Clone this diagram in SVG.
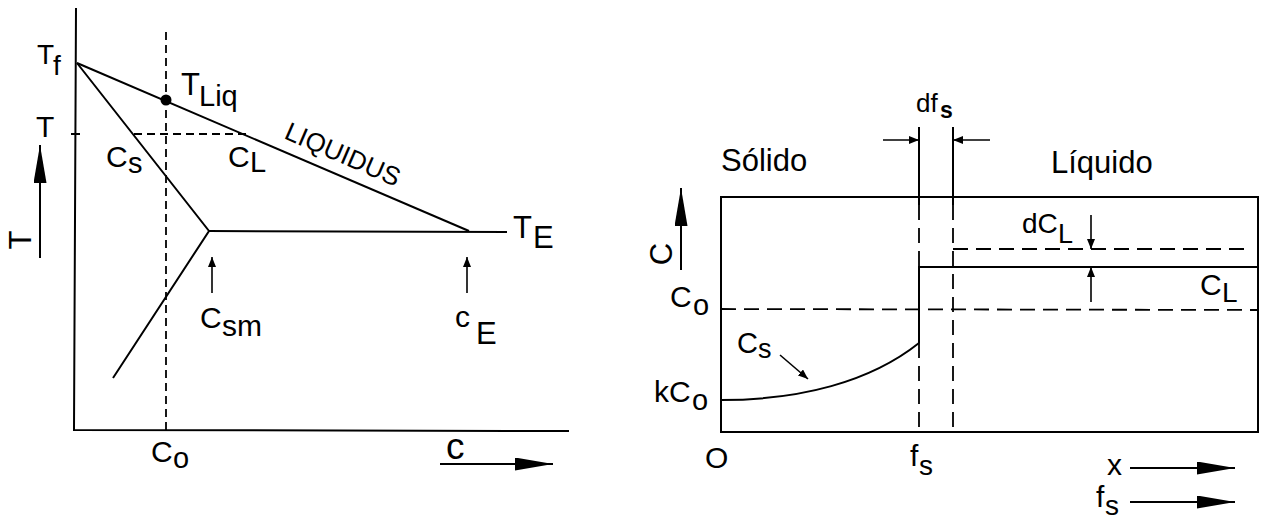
<svg xmlns="http://www.w3.org/2000/svg" width="1265" height="520" viewBox="0 0 1265 520">
<defs>
<style>
text{font-family:"Liberation Sans",Arial,Helvetica,sans-serif;fill:#000}
.ln{stroke:#000;stroke-width:2;fill:none}
.dl{stroke:#000;stroke-width:1.8;fill:none;stroke-dasharray:8 5}
.dr{stroke:#000;stroke-width:1.8;fill:none;stroke-dasharray:15 8}
.big{stroke:#000;stroke-width:2;fill:none;marker-end:url(#ab)}
.sm{stroke:#000;stroke-width:1.6;fill:none;marker-end:url(#as)}
</style>
<marker id="ab" markerUnits="userSpaceOnUse" markerWidth="38" markerHeight="13" refX="38" refY="6.5" orient="auto"><path d="M0,0 L38,6.5 L0,13 z" fill="#000"/></marker>
<marker id="as" markerUnits="userSpaceOnUse" markerWidth="10" markerHeight="8" refX="10" refY="4" orient="auto"><path d="M0,0 L10,4 L0,8 z" fill="#000"/></marker>
</defs>
<rect width="1265" height="520" fill="#fff"/>

<g id="left-diagram">
<g id="left-axes">
<path class="ln" d="M76,8 L74,430 L569,431"/>
<path class="ln" d="M71,134 L80,134"/>
<path class="big" d="M40,258 L40,145"/>
<path class="big" d="M440,464 L553,464"/>
</g>
<g id="left-connectors">
<path class="ln" d="M77,63 L469,231"/>
<path class="ln" d="M77,63 L209,231 L113,378"/>
<path class="ln" d="M209,231 L507,232"/>
<path class="dl" d="M166,32 L166,430"/>
<path class="dl" d="M134,134 L247,134"/>
<path class="sm" d="M212,293 L212,257"/>
<path class="sm" d="M467,293 L467,257"/>
</g>
<g id="tliq-point"><circle cx="166" cy="100" r="5.5" fill="#000"/></g>
<g id="left-labels">
<text x="37" y="64" font-size="28">T</text><text x="53" y="75" font-size="28">f</text>
<text x="181" y="95" font-size="31">T</text><text x="199" y="106" font-size="29">Liq</text>
<text x="36" y="137" font-size="30">T</text>
<text x="106" y="167" font-size="30">C</text><text x="128" y="173" font-size="29">s</text>
<text x="228" y="167" font-size="30">C</text><text x="250" y="172" font-size="29">L</text>
<text transform="translate(283,138) rotate(23.4)" font-size="26">LIQUIDUS</text>
<text x="513" y="238" font-size="31">T</text><text x="533" y="248" font-size="31">E</text>
<text x="200" y="328" font-size="30">C</text><text x="222" y="336" font-size="30">sm</text>
<text x="455" y="327" font-size="30">c</text><text x="476" y="344" font-size="31">E</text>
<text x="151" y="462" font-size="30">C</text><text x="173" y="468" font-size="29">o</text>
<text x="446" y="459" font-size="37">c</text>
<text transform="translate(31,240) rotate(-90)" font-size="31" text-anchor="middle">T</text>
</g>
</g>

<g id="right-diagram">
<g id="box"><rect class="ln" x="721" y="197" width="537" height="235"/></g>
<g id="right-connectors">
<path class="ln" d="M919,127 L919,205"/>
<path class="dr" d="M919,205 L919,266"/>
<path class="ln" d="M919,266 L919,343"/>
<path class="dr" d="M919,343 L919,432"/>
<path class="ln" d="M953,127 L953,205"/>
<path class="dr" d="M953,205 L953,432"/>
<path class="ln" d="M919,267 L1258,267"/>
<path class="dr" d="M953,249 L1252,249"/>
<path class="dr" d="M721,309 L1258,310"/>
<path class="ln" d="M721,400 C800,400 870,382 919,343"/>
<path class="sm" d="M883,140 L919,140"/>
<path class="sm" d="M990,140 L953,140"/>
<path class="sm" d="M1091,215 L1091,249"/>
<path class="sm" d="M1091,302 L1091,267"/>
<path class="sm" d="M780,355 L808,379"/>
<path class="big" d="M681,270 L681,188"/>
<path class="big" d="M1130,468 L1235,468"/>
<path class="big" d="M1130,502 L1235,502"/>
</g>
<g id="right-labels">
<text x="721" y="171" font-size="31">Sólido</text>
<text x="1051" y="173" font-size="31">Líquido</text>
<text x="916" y="112" font-size="26">df</text><text x="940" y="118" font-size="23" font-weight="bold">s</text>
<text transform="translate(672,254) rotate(-90)" font-size="31" text-anchor="middle">C</text>
<text x="670" y="307" font-size="30">C</text><text x="693" y="315" font-size="29">o</text>
<text x="654" y="402" font-size="30">k</text><text x="669" y="402" font-size="30">C</text><text x="692" y="410" font-size="29">o</text>
<text x="737" y="353" font-size="29">C</text><text x="758" y="358" font-size="27">s</text>
<text x="1022" y="233" font-size="28">dC</text><text x="1058" y="243" font-size="27">L</text>
<text x="1200" y="295" font-size="30">C</text><text x="1222" y="302" font-size="28">L</text>
<text x="705" y="468" font-size="30">O</text>
<text x="910" y="466" font-size="30">f</text><text x="919" y="475" font-size="28">s</text>
<text x="1107" y="475" font-size="30">x</text>
<text x="1096" y="507" font-size="30">f</text><text x="1105" y="515" font-size="28">s</text>
</g>
</g>
</svg>
